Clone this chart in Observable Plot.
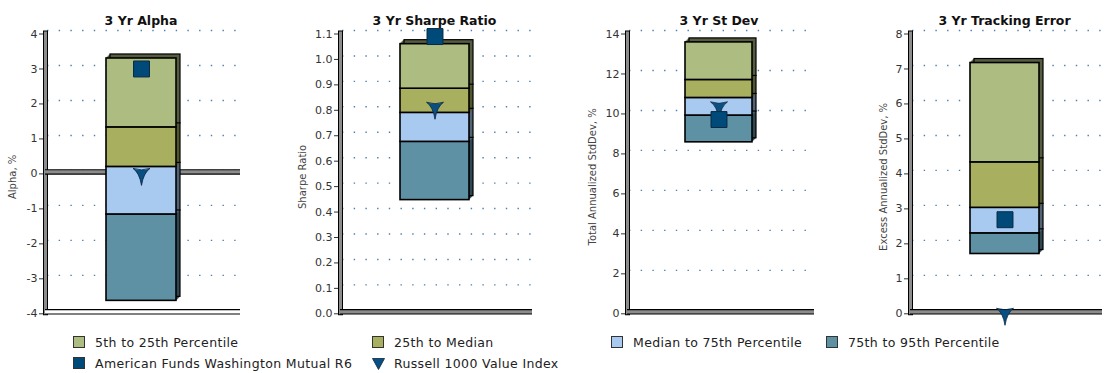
<!DOCTYPE html>
<html><head><meta charset="utf-8">
<script src="https://cdn.jsdelivr.net/npm/d3@7"></script>
<script src="https://cdn.jsdelivr.net/npm/@observablehq/plot@0.6"></script>
<style>
body{margin:0;background:#fff;font-family:"DejaVu Sans",Verdana,sans-serif;}
#wrap{position:relative;width:1107px;height:373px;overflow:hidden;background:#fff;}
.panel{position:absolute;top:0;}
.leg{position:absolute;font-size:12.5px;letter-spacing:0.35px;color:#222;white-space:nowrap;display:flex;align-items:center;height:14px;}
.sw{display:inline-block;width:10px;height:10px;border:1px solid #333;margin-right:10px;box-sizing:content-box;}
.tri{margin-right:9px;}
</style></head><body><div id="wrap"></div>
<script>
// ---- data ----
const panelTitles = ["3 Yr Alpha", "3 Yr Sharpe Ratio", "3 Yr St Dev", "3 Yr Tracking Error"];
const yLabels = ["Alpha, %", "Sharpe Ratio", "Total Annualized StdDev, %", "Excess Annualized StdDev, %"];
const seriesNames = ["5th to 25th Percentile", "25th to Median", "Median to 75th Percentile", "75th to 95th Percentile"];
const fundName = "American Funds Washington Mutual R6";
const indexName = "Russell 1000 Value Index";
// breakpoints: 5th, 25th, median, 75th, 95th percentile
const alphaBreaks = [3.30, 1.33, 0.20, -1.16, -3.63];
const sharpeBreaks = [1.06, 0.885, 0.79, 0.676, 0.447];
const stdevBreaks = [13.58, 11.70, 10.80, 9.92, 8.58];
const trackingBreaks = [7.17, 4.33, 3.03, 2.30, 1.71];
const fundValues = [3.00, 1.09, 9.72, 2.69];
const indexValues = [0.00, 0.81, 10.33, 0.00];
const alphaTicks = [-4, -3, -2, -1, 0, 1, 2, 3, 4];
const sharpeTicks = [0.0, 0.1, 0.2, 0.3, 0.4, 0.5, 0.6, 0.7, 0.8, 0.9, 1.0, 1.1];
const stdevTicks = [0, 2, 4, 6, 8, 10, 12, 14];
const trackingTicks = [0, 1, 2, 3, 4, 5, 6, 7, 8];

// ---- styles ----
const colors = ["#adbc80", "#a8b060", "#a9caf0", "#5e91a3"];
const fundColor = "#004a7a";
const indexColor = "#0a4f82";
const FONT = '"DejaVu Sans", Verdana, sans-serif';

const panels = [
  {breaks: alphaBreaks, ticks: alphaTicks, fmt: d => String(d), left: 0, width: 250, ml: 43, mr: 12, labelDx: -31, floorFill: "#ffffff", zeroSlab: true},
  {breaks: sharpeBreaks, ticks: sharpeTicks, fmt: d3.format(".1f"), left: 277, width: 265, ml: 61, mr: 12, labelDx: -36, floorFill: "#8c8c8c", zeroSlab: false},
  {breaks: stdevBreaks, ticks: stdevTicks, fmt: d => String(d), left: 554, width: 270, ml: 71, mr: 12, labelDx: -32.5, floorFill: "#8c8c8c", zeroSlab: false},
  {breaks: trackingBreaks, ticks: trackingTicks, fmt: d => String(d), left: 831, width: 276, ml: 77, mr: 7, labelDx: -24.5, floorFill: "#8c8c8c", zeroSlab: false}
];

const indexSymbol = {
  draw(ctx, size) {
    const k = Math.sqrt(size / Math.PI) / 8.5;
    ctx.moveTo(-8.5 * k, -5.5 * k);
    ctx.quadraticCurveTo(0, -2.5 * k, 8.5 * k, -5.5 * k);
    ctx.quadraticCurveTo(2 * k, -1 * k, 0, 11.5 * k);
    ctx.quadraticCurveTo(-2 * k, -1 * k, -8.5 * k, -5.5 * k);
    ctx.closePath();
  }
};

const H = 330;
const wrap = document.getElementById("wrap");

panels.forEach((cfg, i) => {
  const b = cfg.breaks;
  const segs = seriesNames.map((name, j) => ({cat: "pct", series: name, hi: b[j], lo: b[j + 1]}));
  const yDomain = [cfg.ticks[0], cfg.ticks[cfg.ticks.length - 1]];
  const marks = [];
  marks.push(Plot.gridY(cfg.ticks.slice(1), {stroke: "#4a7fae", strokeOpacity: 1, strokeWidth: 1.4, strokeDasharray: "1.4 10.3", dx: 4, dy: -3.5}));
  // left wall
  marks.push(Plot.frame({anchor: "left", stroke: "#000", strokeWidth: 5, dx: 2, dy: -1}));
  marks.push(Plot.frame({anchor: "left", stroke: "#8c8c8c", strokeWidth: 3, dx: 2, dy: -1}));
  // floor
  marks.push(Plot.ruleY([yDomain[0]], {stroke: "#000", strokeWidth: 5.5, dx: 2, dy: -2}));
  marks.push(Plot.ruleY([yDomain[0]], {stroke: cfg.floorFill, strokeWidth: 3.3, dx: 2, dy: -2}));
  if (cfg.zeroSlab) {
    marks.push(Plot.ruleY([0], {stroke: "#000", strokeWidth: 5.5, dx: 2, dy: -2}));
    marks.push(Plot.ruleY([0], {stroke: "#8c8c8c", strokeWidth: 3.3, dx: 2, dy: -2}));
  }
  // 3D depth of bars (drawn from bottom segment to top)
  for (let j = segs.length - 1; j >= 0; j--) {
    const dark = d3.color(colors[j]).darker(2).formatHex();
    for (let k = 1; k <= 4; k++) {
      marks.push(Plot.barY([segs[j]], {x: "cat", y1: "lo", y2: "hi", fill: dark, dx: k, dy: -k,
        stroke: k === 4 ? "#000" : dark, strokeWidth: k === 4 ? 1.2 : 0.6}));
    }
  }
  // front faces
  for (let j = segs.length - 1; j >= 0; j--) {
    marks.push(Plot.barY([segs[j]], {x: "cat", y1: "lo", y2: "hi", fill: colors[j], stroke: "#000", strokeWidth: 1.6}));
  }
  // markers
  marks.push(Plot.dot([indexValues[i]], {x: () => "pct", y: d => d, symbol: indexSymbol, r: 8.5, fill: indexColor, stroke: "#06243d", strokeWidth: 0.8}));
  marks.push(Plot.dot([fundValues[i]], {x: () => "pct", y: d => d, symbol: "square", r: 9, fill: fundColor, stroke: "#0b2a44", strokeWidth: 1}));
  // axis
  marks.push(Plot.axisY(cfg.ticks, {tickSize: 4, tickPadding: 2, fontSize: 11, color: "#333", tickFormat: cfg.fmt, label: null}));
  // y label
  marks.push(Plot.text([yLabels[i]], {text: d => d, frameAnchor: "left", textAnchor: "middle", rotate: -90, dx: cfg.labelDx, dy: 3, fontSize: 10, fill: "#444"}));
  // title
  marks.push(Plot.text([panelTitles[i]], {text: d => d, frameAnchor: "top", dy: -18, fontSize: 12.5, fontWeight: "bold", fill: "#111"}));

  const svg = Plot.plot({
    width: cfg.width,
    height: H,
    marginLeft: cfg.ml,
    marginRight: cfg.mr,
    marginTop: 33.5,
    marginBottom: H - 313.3,
    style: {fontFamily: FONT, background: "transparent", overflow: "visible"},
    x: {type: "band", domain: ["pct"], padding: 0.47, axis: null},
    y: {domain: yDomain, axis: null},
    marks
  });
  svg.classList.add("panel");
  svg.style.left = cfg.left + "px";
  svg.style.position = "absolute";
  svg.style.top = "0px";
  wrap.appendChild(svg);
});

// ---- legend ----
const legendItems = [
  {label: seriesNames[0], color: colors[0], x: 73, y: 335},
  {label: seriesNames[1], color: colors[1], x: 372, y: 335},
  {label: seriesNames[2], color: colors[2], x: 611, y: 335},
  {label: seriesNames[3], color: colors[3], x: 826, y: 335},
  {label: fundName, color: fundColor, x: 73, y: 356},
  {label: indexName, tri: true, x: 372, y: 356}
];
legendItems.forEach(it => {
  const d = document.createElement("div");
  d.className = "leg";
  d.style.left = it.x + "px";
  d.style.top = it.y + "px";
  if (it.tri) {
    d.innerHTML = `<svg class="tri" width="13" height="13" viewBox="0 0 13 13"><path d="M0.5,1.5 L12.5,1.5 L6.5,12.5 Z" fill="${indexColor}" stroke="#06243d" stroke-width="0.8"/></svg>`;
  } else {
    d.innerHTML = `<span class="sw" style="background:${it.color}"></span>`;
  }
  const t = document.createElement("span");
  t.textContent = it.label;
  d.appendChild(t);
  wrap.appendChild(d);
});
</script>
</body></html>
